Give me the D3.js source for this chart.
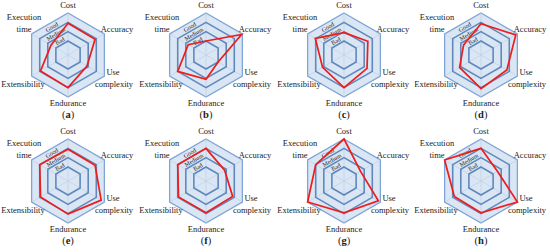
<!DOCTYPE html>
<html>
<head>
<meta charset="utf-8">
<script src="https://cdn.jsdelivr.net/npm/d3@7"></script>
<style>
  body { margin: 0; background: #fff; }
  text { font-family: "Liberation Serif", "Times New Roman", serif; fill: #222; }
</style>
</head>
<body>
<div id="chart"></div>
<script>

// axes, clockwise from the top
var categories = ["Cost", "Accuracy", "Use complexity", "Endurance", "Extensibility", "Execution time"];
var levelLabels = ["Bad", "Medium", "Good"];
var panelLetters = ["a", "b", "c", "d", "e", "f", "g", "h"];

// scores per panel, 0 = inner hexagon, 3 = outer hexagon
var valuesA = [1.9, 1.85, 0.85, 2.0, 1.9, 0.6];
var valuesB = [0.0, 2.9, 0.0, 1.1, 2.0, 0.7];
var valuesC = [0.9, 1.45, 1.35, 2.0, 1.15, 2.05];
var valuesD = [1.85, 2.8, 1.7, 2.1, 1.15, 0.65];
var valuesE = [1.9, 1.85, 2.6, 2.05, 1.9, 2.0];
var valuesF = [2.0, 0.8, 1.8, 1.9, 1.9, 2.0];
var valuesG = [3.0, 0.55, 2.75, 1.9, 3.0, 2.0];
var valuesH = [2.0, 0.55, 3.0, 1.9, 1.8, 3.0];
var allValues = [valuesA, valuesB, valuesC, valuesD, valuesE, valuesF, valuesG, valuesH];

var width = 550, height = 252;
var colX = [68, 206, 344, 481];
var rowY = [55, 181];

var svg = d3.select("#chart").append("svg")
  .attr("width", width)
  .attr("height", height);

var r = d3.scaleLinear().domain([0, 3]).range([14, 42]);

var step = Math.PI / 3;

// closed hexagon / polygon in radial coords (angle 0 = up, clockwise)
var radial = d3.lineRadial()
  .angle(function(d, i) { return i * step; })
  .radius(function(d) { return r(d); })
  .curve(d3.curveLinearClosed);

function xy(i, v) {
  var a = -Math.PI / 2 + i * step;
  return [Math.cos(a) * r(v), Math.sin(a) * r(v)];
}

// label positions relative to center [dx, dy]
var labelPos = [
  [[0, -47]],
  [[49, -23]],
  [[45, 20], [46, 32]],
  [[0, 51]],
  [[-45, 32]],
  [[-44, -35], [-44, -23]]
];
var labelLines = [["Cost"], ["Accuracy"], ["Use", "complexity"], ["Endurance"], ["Extensibility"], ["Execution", "time"]];

allValues.forEach(function(vals, p) {
  var cx = colX[p % 4], cy = rowY[Math.floor(p / 4)];
  var g = svg.append("g").attr("transform", "translate(" + cx + "," + cy + ")");

  // background fill
  g.append("path")
    .attr("d", radial([3, 3, 3, 3, 3, 3]))
    .style("fill", "#dae6f4")
    .style("stroke", "#7ea5d6")
    .style("stroke-width", 1.3);

  // spokes
  categories.forEach(function(c, i) {
    var p0 = xy(i, 0), p1 = xy(i, 3);
    g.append("line")
      .attr("x1", 0).attr("y1", 0)
      .attr("x2", p1[0]).attr("y2", p1[1])
      .style("stroke", "#b9cde6")
      .style("stroke-width", 0.6);
  });

  // inner rings
  [0, 1, 2].forEach(function(lv) {
    var ring = categories.map(function() { return lv; });
    g.append("path")
      .attr("d", radial(ring))
      .style("fill", "none")
      .style("stroke", "#5f89bd")
      .style("stroke-width", 1.6);
  });

  // band labels along the upper-left edge
  levelLabels.forEach(function(t, k) {
    var mid = (r(k) + r(k + 1)) / 2 * Math.cos(Math.PI / 6);
    var a = -Math.PI / 2 - Math.PI / 6;
    g.append("text")
      .attr("transform", "translate(" + (Math.cos(a) * mid) + "," + (Math.sin(a) * mid) + ") rotate(-30)")
      .attr("text-anchor", "middle")
      .attr("dy", "0.35em")
      .style("font-size", "6px")
      .text(t);
  });

  // data polygon
  g.append("path")
    .attr("d", radial(vals))
    .style("fill", "none")
    .style("stroke", "#ee1c1c")
    .style("stroke-width", 1.7)
    .style("stroke-linejoin", "miter");

  // axis labels
  labelLines.forEach(function(lines, i) {
    lines.forEach(function(line, j) {
      g.append("text")
        .attr("x", labelPos[i][j][0])
        .attr("y", labelPos[i][j][1])
        .attr("text-anchor", "middle")
        .style("font-size", "8.5px")
        .text(line);
    });
  });

  // panel letter
  var lt = g.append("text")
    .attr("x", 0).attr("y", 63)
    .attr("text-anchor", "middle")
    .style("font-size", "10.5px");
  lt.append("tspan").text("(");
  lt.append("tspan").style("font-weight", "bold").text(panelLetters[p]);
  lt.append("tspan").text(")");
});
</script>
</body>
</html>
